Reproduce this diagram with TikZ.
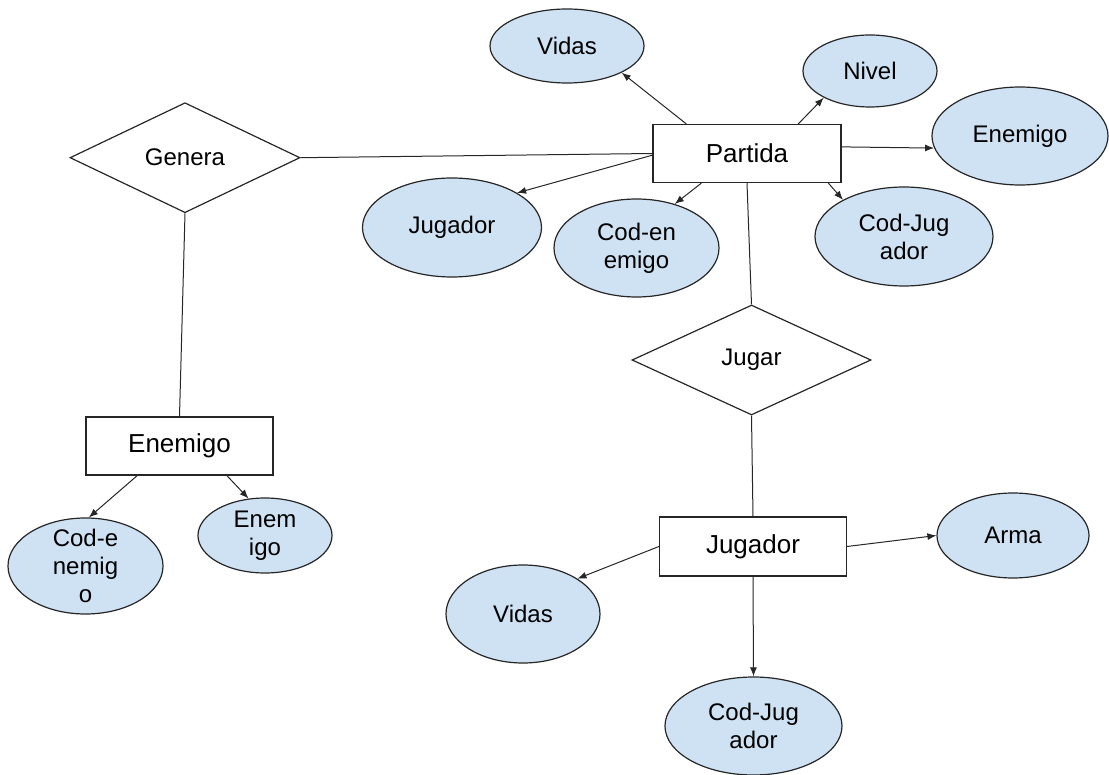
\documentclass[tikz,border=0pt]{standalone}
\usepackage{fontspec}
\setmainfont{Liberation Sans}
\usepackage{xcolor}
\usetikzlibrary{shapes.geometric, arrows.meta}
\definecolor{attrblue}{HTML}{CFE2F3}

\begin{document}
\begin{tikzpicture}[x=0.5pt, y=-0.5pt,
  ent/.style={draw=black!85, line width=0.6pt, fill=white, inner sep=0pt,
    minimum width=94pt, minimum height=29pt, font=\fontsize{13}{15}\selectfont},
  rel/.style={draw=black!85, line width=0.6pt, diamond, inner sep=0pt,
    font=\fontsize{12}{14}\selectfont},
  attr/.style={draw=black!85, line width=0.6pt, fill=attrblue, ellipse,
    inner sep=0pt, align=center, font=\fontsize{12}{14}\selectfont},
  conn/.style={draw=black!85, line width=0.5pt},
  arr/.style={conn, -{Latex[length=4.5pt,width=3.5pt]}}]
  \useasboundingbox (0,0) rectangle (1109,775);
  % Entidades y relaciones
  \node[ent] (partida) at (747,153.5) {Partida};
  \node[ent, minimum width=93.5pt] (enemigo) at (179.5,446) {Enemigo};
  \node[ent, minimum width=93.5pt, minimum height=29.5pt] (jugador) at (753,546.5) {Jugador};
  \node[rel, minimum width=115pt, minimum height=55pt] (genera) at (185,157.7) {Genera};
  \node[rel, minimum width=119.5pt, minimum height=55pt] (jugar) at (751.5,360) {Jugar};
  % Atributos de Partida
  \node[attr, minimum width=77pt, minimum height=37pt] (vidasA) at (567,46) {Vidas};
  \node[attr, minimum width=67pt, minimum height=36pt] (nivel) at (870,71) {Nivel};
  \node[attr, minimum width=88pt, minimum height=49pt] (enemigoA) at (1020,136) {Enemigo};
  \node[attr, minimum width=89.5pt, minimum height=49.5pt] (jugadorA) at (452,227.5) {Jugador};
  \node[attr, minimum width=82.5pt, minimum height=49pt] (codenA) at (636.5,248) {Cod-en\\emigo};
  \node[attr, minimum width=89pt, minimum height=49.5pt] (codjugA) at (904,236.5) {Cod-Jug\\ador};
  % Atributos de Enemigo
  \node[attr, inner ysep=-6pt, minimum width=77.5pt, minimum height=48pt] (codenemigo) at (85.5,566) {Cod-e\\nemig\\o};
  \node[attr, minimum width=67pt, minimum height=37.5pt] (enem) at (265,535.5) {Enem\\igo};
  % Atributos de Jugador
  \node[attr, minimum width=77pt, minimum height=49pt] (vidasB) at (523,614) {Vidas};
  \node[attr, minimum width=76pt, minimum height=42.5pt] (arma) at (1013,535.5) {Arma};
  \node[attr, minimum width=88.5pt, minimum height=49pt] (codjugB) at (753.5,726) {Cod-Jug\\ador};
  % Relaciones
  \draw[conn] (genera.east) -- (partida.west);
  \draw[conn] (genera.south) -- (enemigo.north);
  \draw[conn] (partida.south) -- (jugar.north);
  \draw[conn] (jugar.south) -- (jugador.north);
  % Flechas
  \draw[arr] (partida.154) -- (vidasA.-26);
  \draw[arr] (partida.30) -- (nivel.210);
  \draw[arr] (partida.4) -- (enemigoA.188);
  \draw[arr] (partida.181) -- (jugadorA.28);
  \draw[arr] (partida.213) -- (codenA.49);
  \draw[arr] (partida.-20) -- (codjugA.149);
  \draw[arr] (enemigo.215) -- (codenemigo.86);
  \draw[arr] (enemigo.-32) -- (enem.114);
  \draw[arr] (jugador.west) -- (vidasB.33);
  \draw[arr] (jugador.east) -- (arma.west);
  \draw[arr] (jugador.south) -- (codjugB.north);
\end{tikzpicture}
\end{document}
